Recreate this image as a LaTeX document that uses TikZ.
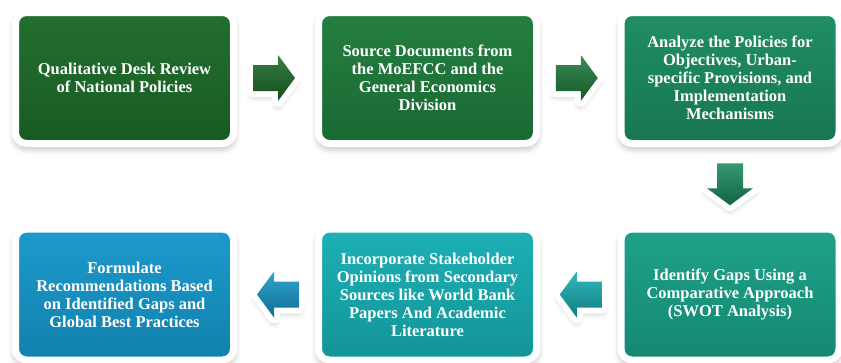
\documentclass[tikz,border=0pt]{standalone}
\usepackage{fontspec}
\setmainfont{Liberation Serif}
\usetikzlibrary{positioning,calc,shadows,shadows.blur}
\definecolor{reviewgreen}{HTML}{1C6B28}
\definecolor{sourcegreen}{HTML}{1E7B3B}
\definecolor{analyzegreen}{HTML}{1A8B5E}
\definecolor{gapsteal}{HTML}{189F86}
\definecolor{stakecyan}{HTML}{16AEB3}
\definecolor{recomblue}{HTML}{1597CB}
\newcommand{\stepfont}{\fontsize{16.5}{18}\selectfont\bfseries}

\tikzset{
  stepbox/.style={rectangle, rounded corners=11pt, draw=white, line width=7pt,
    minimum width=218pt, minimum height=131pt, align=center, text=white, font=\stepfont,
    blur shadow={shadow xshift=0pt, shadow yshift=-4pt, shadow blur radius=7pt, shadow opacity=35},
    top color=#1!97!white, middle color=#1, bottom color=#1!85!black},
  blockarrow/.style={
    blur shadow={shadow xshift=0pt, shadow yshift=-4pt, shadow blur radius=7pt, shadow opacity=35},
    preaction={draw=white, line width=12pt, line join=round},
    top color=#1!88!white, bottom color=#1!72!black},
}

% block arrow: position, angle, colour
\newcommand{\flowarrow}[3]{%
  \begin{scope}[shift={#1}, rotate=#2]
    \path[blockarrow=#3] (-23,-13) -- (2,-13) -- (2,-23) -- (19,0) -- (2,23) -- (2,13) -- (-23,13) -- cycle;
  \end{scope}}

\begin{document}
\begin{tikzpicture}[x=1pt, y=-1pt]
        \useasboundingbox (0,0) rectangle (841,362);

        % top row
        \node[stepbox=reviewgreen] (review) at (124.5,78) {Qualitative Desk Review\\of National Policies};
        \node[stepbox=sourcegreen] (source) at (427.5,78) {Source Documents from\\the MoEFCC and the\\General Economics\\Division};
        \node[stepbox=analyzegreen] (analyze) at (730,78) {Analyze the Policies for\\Objectives, Urban-\\specific Provisions, and\\Implementation\\Mechanisms};

        % bottom row
        \node[stepbox=gapsteal] (gaps) at (730,294.5) {Identify Gaps Using a\\Comparative Approach\\(SWOT Analysis)};
        \node[stepbox=stakecyan] (stake) at (427.5,294.5) {Incorporate Stakeholder\\Opinions from Secondary\\Sources like World Bank\\Papers And Academic\\Literature};
        \node[stepbox=recomblue] (recom) at (124.5,294.5) {Formulate\\Recommendations Based\\on Identified Gaps and\\Global Best Practices};

        % arrows
        \flowarrow{($(review.east)!0.5!(source.west)$)}{0}{reviewgreen}
        \flowarrow{($(source.east)!0.5!(analyze.west)$)}{0}{sourcegreen}
        \flowarrow{($(analyze.south)!0.5!(gaps.north)$)}{-90}{analyzegreen}
        \flowarrow{($(gaps.west)!0.5!(stake.east)$)}{180}{stakecyan}
        \flowarrow{($(stake.west)!0.5!(recom.east)$)}{180}{recomblue}
\end{tikzpicture}
\end{document}
